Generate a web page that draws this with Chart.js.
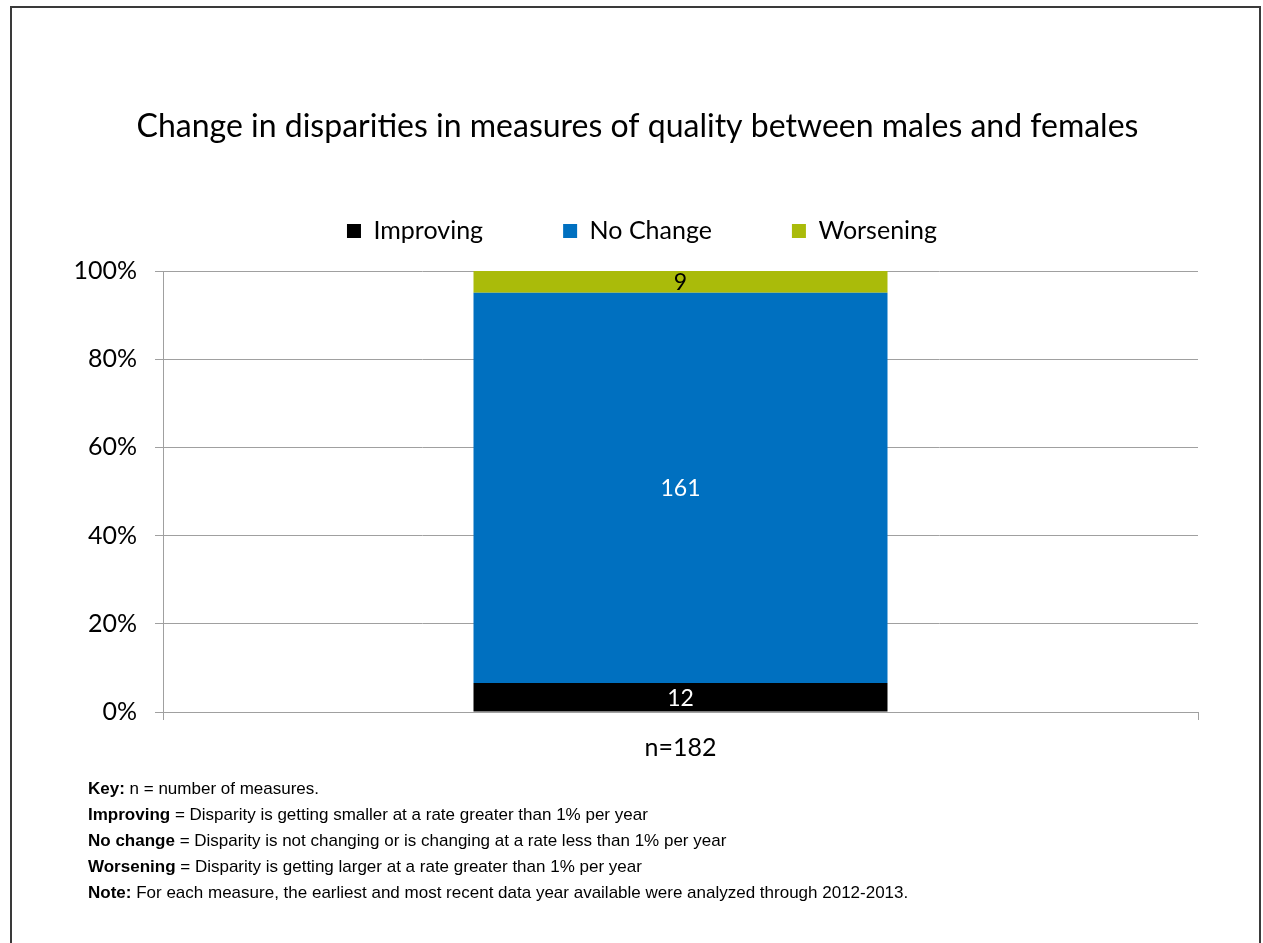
<!DOCTYPE html>
<html>
<head>
<meta charset="utf-8">
<script src="https://cdn.jsdelivr.net/npm/chart.js@4.4.1/dist/chart.umd.min.js"></script>
<style>
  html, body { margin: 0; padding: 0; background: #fff; }
  #wrap { position: relative; width: 1263px; height: 943px; overflow: hidden; }
  #frame { position: absolute; left: 10px; top: 6px; width: 1251px; height: 960px; border: 2px solid #3a3a3a; box-sizing: border-box; }
  #chartBox { position: absolute; left: 0; top: 0; width: 1263px; height: 943px; }
  #notes { position: absolute; left: 88px; top: 779px; color: #000; font-family: "Liberation Sans", Arial, sans-serif; font-size: 17px; }
  #notes div { height: 26px; line-height: 20px; white-space: nowrap; }
</style>
</head>
<body>
<div id="wrap">
  <div id="frame"></div>
  <div id="chartBox"><canvas id="c"></canvas></div>
  <div id="notes">
    <div><b>Key:</b> n = number of measures.</div>
    <div><b>Improving</b> = Disparity is getting smaller at a rate greater than 1% per year</div>
    <div><b>No change</b> = Disparity is not changing or is changing at a rate less than 1% per year</div>
    <div><b>Worsening</b> = Disparity is getting larger at a rate greater than 1% per year</div>
    <div><b>Note:</b> For each measure, the earliest and most recent data year available were analyzed through 2012-2013.</div>
  </div>
</div>
<script>
const categories = ["n=182"];
const seriesNames = ["Improving", "No Change", "Worsening"];
const improvingCounts = [12];
const noChangeCounts = [161];
const worseningCounts = [9];
const yTickValues = [0, 20, 40, 60, 80, 100];
const seriesColors = ["#000000", "#0070C0", "#AABB0A"];
const labelColors = ["#FFFFFF", "#FFFFFF", "#000000"];

const countsBySeries = [improvingCounts, noChangeCounts, worseningCounts];
const totals = categories.map((_, i) => countsBySeries.reduce((s, arr) => s + arr[i], 0));

const FONT = "Lato, 'Open Sans', sans-serif";

const datasets = seriesNames.map((name, k) => ({
  label: name,
  data: countsBySeries[k].map((v, i) => v / totals[i] * 100),
  counts: countsBySeries[k],
  backgroundColor: seriesColors[k],
  borderWidth: 0,
  barPercentage: 0.4,
  categoryPercentage: 1.0,
  labelColor: labelColors[k]
}));

const legendSpacing = {
  id: 'legendSpacing',
  beforeInit(chart) {
    const origFit = chart.legend.fit;
    chart.legend.fit = function () {
      origFit.bind(chart.legend)();
      this.height += 17.5;
    };
  },
  afterLayout(chart) {
    chart.legend.left += 13;
    chart.legend.right += 13;
    chart.titleBlock.left += 8.5;
    chart.titleBlock.right += 8.5;
  }
};

const countLabels = {
  id: 'countLabels',
  afterDatasetsDraw(chart) {
    const ctx = chart.ctx;
    ctx.save();
    ctx.font = "23px " + FONT;
    ctx.textAlign = 'center';
    ctx.textBaseline = 'middle';
    chart.data.datasets.forEach((ds, di) => {
      const meta = chart.getDatasetMeta(di);
      meta.data.forEach((el, i) => {
        const p = el.getProps(['x', 'y', 'base'], true);
        ctx.fillStyle = ds.labelColor;
        ctx.fillText(String(ds.counts[i]), p.x, (p.y + p.base) / 2 + 1);
      });
    });
    ctx.restore();
  }
};

new Chart(document.getElementById('c'), {
  type: 'bar',
  data: { labels: categories, datasets },
  plugins: [legendSpacing, countLabels],
  options: {
    responsive: true,
    maintainAspectRatio: false,
    animation: false,
    layout: { padding: { left: 60, right: 65, top: 0, bottom: 0 } },
    plugins: {
      title: {
        display: true,
        text: "Change in disparities in measures of quality between males and females",
        color: "#000",
        font: { family: FONT, size: 32, weight: 'normal', lineHeight: 1.2 },
        padding: { top: 107.8, bottom: -7.7 }
      },
      legend: {
        display: true,
        position: 'top',
        labels: {
          color: "#000",
          font: { family: FONT, size: 25 },
          boxWidth: 14,
          boxHeight: 14,
          padding: 80
        }
      },
      tooltip: { enabled: false }
    },
    scales: {
      x: {
        stacked: true,
        offset: true,
        grid: { display: true, drawOnChartArea: false, drawTicks: true, tickLength: 8, color: "#A0A0A0", offset: true },
        border: { display: true, color: "#A0A0A0", width: 1 },
        ticks: { color: "#000", font: { family: FONT, size: 25 }, padding: 13 },
        afterFit(scale) { scale.height = 231; }
      },
      y: {
        stacked: true,
        min: 0,
        max: 100,
        afterBuildTicks(scale) { scale.ticks = yTickValues.map(v => ({ value: v })); },
        grid: { color: "#A0A0A0", lineWidth: 1, tickLength: 8, drawTicks: true },
        border: { display: true, color: "#A0A0A0", width: 1 },
        ticks: { color: "#000", font: { family: FONT, size: 25 }, padding: 18, callback: v => v + '%' },
        afterFit(scale) { scale.width = 103; }
      }
    }
  }
});
</script>
</body>
</html>
